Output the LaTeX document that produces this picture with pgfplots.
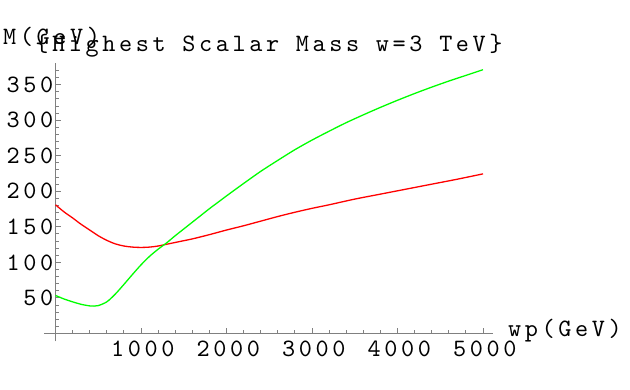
\documentclass[border=0pt]{standalone}
\usepackage{fontspec}
\newfontfamily\courfam{lmmono10-regular.otf}[LetterSpace=14.4]
\usepackage{pgfplots}
\pgfplotsset{compat=1.18}
\definecolor{axgray}{RGB}{128,128,128}
\newcommand\mfont{\fontsize{25.1}{27}\courfam}
\begin{document}
\begin{tikzpicture}
\path[use as bounding box] (0,0) rectangle (630bp,390bp);
\begin{axis}[
  at={(44.3bp,48.7bp)}, anchor=south west,
  scale only axis, width=449bp, height=278bp,
  xmin=-131, xmax=5120, ymin=-11, ymax=380,
  axis lines=middle,
  axis line style={-, draw=axgray, line width=1.3bp},
  xtick={1000,2000,...,5000},
  ytick={50,100,...,350},
  minor xtick={200,400,...,5000},
  minor ytick={10,20,...,370},
  tick align=inside,
  major tick length=5bp, minor tick length=3bp,
  tick style={draw=axgray, line width=0.9bp},
  /pgf/number format/1000 sep={},
  /pgf/number format/assume math mode=true,
  ticklabel style={font=\mfont},
  xticklabel style={inner sep=0pt, anchor=north, yshift=-7.5bp, xshift=1.8bp},
  yticklabel style={inner sep=0pt, anchor=east, xshift=-2bp},
  clip=false,
]
% red curve
\addplot[red, line width=1.3bp, smooth] coordinates {
(0,181) (100,171) (200,162.5) (300,153.5) (400,145.5) (500,137.5) (600,131)
(700,126) (800,123) (900,121.5) (1000,121) (1100,121.5) (1200,123)
(1300,125.5) (1400,128) (1500,130.5) (1600,133) (1800,139) (2000,145.5)
(2200,151.5) (2400,158) (2600,164.5) (2800,170.5) (3000,176) (3200,181)
(3500,189) (3800,196) (4100,203) (4400,210) (4700,217) (5000,224.5)
};
% green curve
\addplot[green, line width=1.3bp, smooth] coordinates {
(0,53.5) (100,48.5) (200,44.5) (300,41) (400,38.8) (450,38.5) (500,39.2)
(600,44.5) (700,55.5) (800,69) (900,83) (1000,96.5) (1100,108.5)
(1200,118.5) (1300,127.5) (1400,137.5) (1500,147) (1600,156.5) (1700,166)
(1800,175.5) (1900,184.5) (2000,193.5) (2200,211) (2400,228) (2600,243.5)
(2800,258.5) (3000,272) (3200,284.5) (3400,296.5) (3600,307.5) (3800,318)
(4000,328) (4200,337.5) (4400,346.5) (4600,355) (4800,363) (5000,371)
};
\end{axis}
\node[anchor=base west, inner sep=0pt, font=\mfont] at (3bp,345bp) {M(GeV)};
\node[anchor=base, inner sep=0pt, font=\mfont] at (269bp,338.3bp) {\{Highest Scalar Mass w=3 TeV\}};
\node[anchor=base west, inner sep=0pt, font=\mfont] at (508bp,53.3bp) {wp(GeV)};
\end{tikzpicture}
\end{document}
